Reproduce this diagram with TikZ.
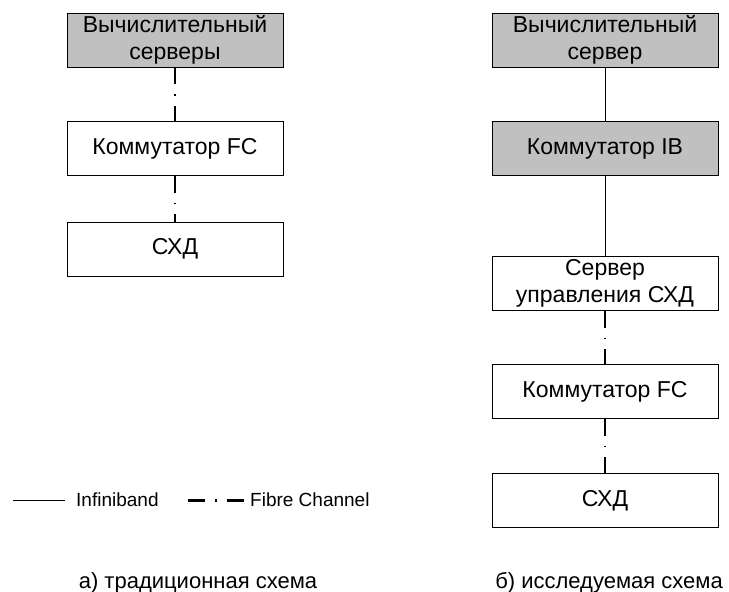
\documentclass[tikz,border=0pt]{standalone}
\usepackage{fontspec}
\setmainfont{Liberation Sans}
\usepackage{tikz}
\definecolor{boxgray}{RGB}{192,192,192}
\tikzset{
  blk/.style={draw, line width=0.8pt, minimum height=54pt, inner sep=0pt,
    align=center, font=\fontsize{23}{27}\selectfont},
  grayblk/.style={blk, fill=boxgray},
  ib/.style={line width=0.8pt},
  fc/.style={line width=1.6pt, dash pattern=on 17pt off 10pt on 1.5pt off 10pt},
  lgd/.style={anchor=west, inner sep=0pt, font=\fontsize{19}{22}\selectfont},
  capt/.style={anchor=base, inner sep=0pt, font=\fontsize{22}{26}\selectfont}
}

\begin{document}
\begin{tikzpicture}[x=1pt,y=-1pt]
\useasboundingbox (0,0) rectangle (729,592);

% traditional scheme
\node[grayblk, minimum width=216pt] (a1) at (175,40) {Вычислительный\\серверы};
\node[blk, minimum width=216pt] (a2) at (175,148.5) {Коммутатор FC};
\node[blk, minimum width=216pt] (a3) at (175,249) {СХД};

\draw[fc] (a1) -- (a2);
\draw[fc] (a2) -- (a3);

% studied scheme
\node[grayblk, minimum width=226pt] (b1) at (605,40) {Вычислительный\\сервер};
\node[grayblk, minimum width=226pt] (b2) at (605,148.5) {Коммутатор IB};
\node[blk, minimum width=226pt] (b3) at (605,283.5) {Сервер\\управления СХД};
\node[blk, minimum width=226pt] (b4) at (605,391.5) {Коммутатор FC};
\node[blk, minimum width=226pt] (b5) at (605,500.5) {СХД};

\draw[ib] (b1) -- (b2);
\draw[ib] (b2) -- (b3);
\draw[fc] (b3) -- (b4);
\draw[fc] (b4) -- (b5);

% legend
\coordinate (ib1) at (13,500);
\coordinate (ib2) at (65,500);
\node[lgd] (ibtxt) at (76,500) {Infiniband};
\draw[ib] (ib1) -- (ib2);

\coordinate (fc1) at (188,500);
\coordinate (fc2) at (243.5,500);
\node[lgd] (fctxt) at (250,500) {Fibre Channel};
\draw[fc, line width=3pt] (fc1) -- (fc2);

% captions
\node[capt] (capa) at (198,588) {а) традиционная схема};
\node[capt] (capb) at (609,588) {б) исследуемая схема};
\end{tikzpicture}
\end{document}
